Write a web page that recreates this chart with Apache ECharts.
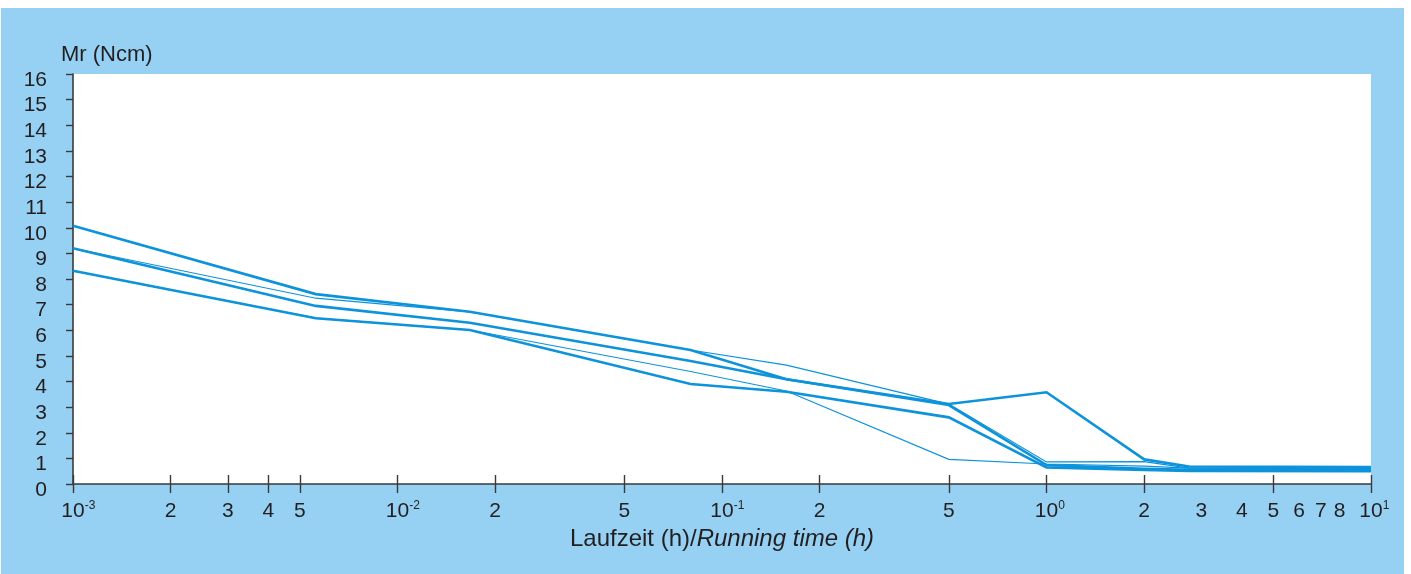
<!DOCTYPE html>
<html>
<head>
<meta charset="utf-8">
<script src="https://cdn.jsdelivr.net/npm/echarts@6/dist/echarts.min.js"></script>
<style>
  html, body { margin: 0; padding: 0; background: #ffffff; }
  #panel { position: absolute; left: 1px; top: 8px; width: 1403px; height: 566px; background: #96d0f3; }
  #chart { position: absolute; left: 0; top: 0; width: 1411px; height: 574px; }
</style>
</head>
<body>
<div id="panel"></div>
<div id="chart"></div>
<script>
// Running time (h) of each measurement
const runningTime = [0.001, 0.0056, 0.0167, 0.08, 0.158, 0.5, 1, 2, 2.75, 10];

// Friction torque Mr (Ncm) of the individual runs
const torqueA = [10.08, 7.41, 6.72, 5.23, 4.09, 3.12, 3.58, 0.96, 0.68, 0.66];
const torqueB = [9.2, 7.25, 6.72, 5.23, 4.64, 3.12, 0.86, 0.87, 0.62, 0.60];
const torqueC = [9.2, 6.95, 6.29, 4.80, 4.09, 3.08, 0.74, 0.59, 0.55, 0.55];
const torqueD = [8.32, 6.47, 6.01, 3.90, 3.60, 2.60, 0.65, 0.55, 0.51, 0.50];
const torqueE = [8.32, 6.47, 6.01, 4.39, 3.63, 0.96, 0.78, 0.70, 0.62, 0.62];

// Log-axis tick marks and labels
const tickValues = [0.001, 0.002, 0.003, 0.004, 0.005, 0.01, 0.02, 0.05, 0.1, 0.2, 0.5, 1, 2, 5, 10];
const labelValues = [0.001, 0.002, 0.003, 0.004, 0.005, 0.01, 0.02, 0.05, 0.1, 0.2, 0.5, 1, 2, 3, 4, 5, 6, 7, 8, 10];

const yMin = 0, yMax = 16, yStep = 1;

const LINE = '#0d93da';
const INK = '#231f20';
const AXIS = '#3a3a3a';
const FONT = '"Liberation Sans", Arial, Helvetica, sans-serif';

function logLabel(v) {
  const e = Math.floor(Math.log10(v) + 1e-9);
  const m = Math.round(v / Math.pow(10, e));
  if (m === 1) {
    // leading spacer keeps the "10" centred on its tick
    return '{sp|' + e + '}{n|10}{sup|' + e + '}';
  }
  return '{n|' + m + '}';
}

function pairs(values) {
  return runningTime.map((t, i) => [t, values[i]]);
}

function run(values, width, z) {
  return {
    type: 'line',
    data: pairs(values),
    symbol: 'none',
    silent: true,
    z: z,
    lineStyle: { color: LINE, width: width, join: 'miter' }
  };
}

const chart = echarts.init(document.getElementById('chart'), null, { renderer: 'canvas' });

chart.setOption({
  backgroundColor: 'transparent',
  animation: false,
  title: {
    text: 'Mr (Ncm)',
    left: 56,
    top: 39,
    textStyle: { fontFamily: FONT, fontSize: 22, fontWeight: 'normal', color: INK }
  },
  grid: {
    left: 73, right: 40, top: 74, bottom: 90,
    show: true, backgroundColor: '#ffffff', borderWidth: 0
  },
  xAxis: [
    {
      type: 'log',
      logBase: 10,
      min: 0.001,
      max: 10,
      position: 'bottom',
      name: '{n|Laufzeit (h)/}{i|Running time (h)}',
      nameLocation: 'middle',
      nameGap: 38,
      nameTextStyle: {
        rich: {
          n: { fontFamily: FONT, fontSize: 24, color: INK },
          i: { fontFamily: FONT, fontSize: 24, color: INK, fontStyle: 'italic' }
        }
      },
      axisLine: { show: true, onZero: false, lineStyle: { color: AXIS, width: 1.6 } },
      axisTick: { show: true, inside: false, length: 9, customValues: tickValues, lineStyle: { color: AXIS, width: 1.4 } },
      minorTick: { show: false },
      splitLine: { show: false },
      axisLabel: {
        show: true,
        customValues: labelValues,
        margin: 16,
        formatter: logLabel,
        rich: {
          n: { fontFamily: FONT, fontSize: 21, color: INK, lineHeight: 22, verticalAlign: 'bottom' },
          sp: { fontFamily: FONT, fontSize: 12, color: 'rgba(0,0,0,0)', lineHeight: 22, verticalAlign: 'top' },
          sup: { fontFamily: FONT, fontSize: 12, color: INK, lineHeight: 22, verticalAlign: 'top' }
        }
      }
    },
    {
      type: 'log',
      logBase: 10,
      min: 0.001,
      max: 10,
      position: 'bottom',
      offset: 0,
      axisLine: { show: false },
      axisTick: { show: true, inside: true, length: 9, customValues: tickValues, lineStyle: { color: AXIS, width: 1.4 } },
      axisLabel: { show: false },
      splitLine: { show: false }
    }
  ],
  yAxis: {
    type: 'value',
    min: yMin,
    max: yMax,
    interval: yStep,
    axisLine: { show: true, lineStyle: { color: AXIS, width: 1.6 } },
    axisTick: { show: true, inside: false, length: 7, lineStyle: { color: AXIS, width: 1.4 } },
    splitLine: { show: false },
    axisLabel: {
      margin: 26,
      fontFamily: FONT,
      fontSize: 21,
      color: INK,
      verticalAlign: 'top',
      lineHeight: 12
    }
  },
  series: [
    run(torqueB, 1.2, 2),
    run(torqueE, 1.2, 2),
    run(torqueA, 2.6, 3),
    run(torqueC, 2.6, 3),
    run(torqueD, 2.6, 3)
  ]
});
</script>
</body>
</html>
